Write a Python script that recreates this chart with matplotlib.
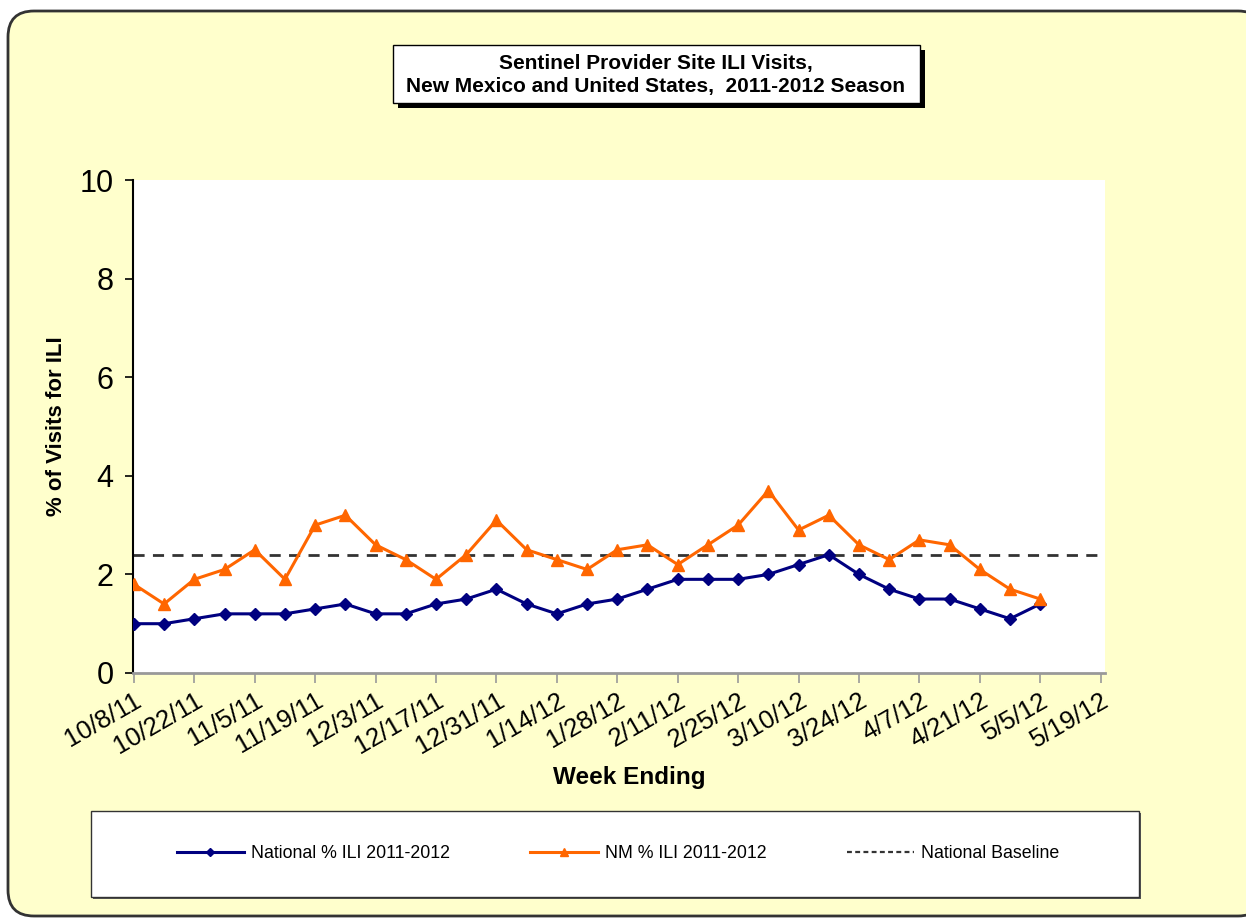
import matplotlib
matplotlib.use("Agg")
import matplotlib.pyplot as plt
import numpy as np
import pandas as pd
from matplotlib.patches import FancyBboxPatch, Rectangle
from matplotlib.transforms import IdentityTransform

plt.rcParams['font.family'] = ['Liberation Sans', 'DejaVu Sans']

# weekly data, week ending 10/8/11 .. 5/5/12
weeks = pd.date_range('2011-10-08', periods=31, freq='7D')
national = [1.0, 1.0, 1.1, 1.2, 1.2, 1.2, 1.3, 1.4, 1.2, 1.2, 1.4, 1.5, 1.7, 1.4, 1.2, 1.4,
            1.5, 1.7, 1.9, 1.9, 1.9, 2.0, 2.2, 2.4, 2.0, 1.7, 1.5, 1.5, 1.3, 1.1, 1.4]
nm = [1.8, 1.4, 1.9, 2.1, 2.5, 1.9, 3.0, 3.2, 2.6, 2.3, 1.9, 2.4, 3.1, 2.5, 2.3, 2.1,
      2.5, 2.6, 2.2, 2.6, 3.0, 3.7, 2.9, 3.2, 2.6, 2.3, 2.7, 2.6, 2.1, 1.7, 1.5]
baseline = 2.4
tick_dates = pd.date_range('2011-10-08', '2012-05-19', freq='14D')
tick_labels = [f'{d.month}/{d.day}/{d.strftime("%y")}' for d in tick_dates]

W, H = 1246, 918
fig = plt.figure(figsize=(W / 100, H / 100), dpi=100)
fig.patch.set_facecolor('white')

# yellow rounded panel (pixel coords)
panel = FancyBboxPatch((8, H - 916), 1256, 905,
                       boxstyle='round,pad=0,rounding_size=26',
                       transform=IdentityTransform(), facecolor='#FFFFCC',
                       edgecolor='#333333', linewidth=2, zorder=-2)
fig.patches.append(panel)

ax = fig.add_axes([133 / W, 1 - 673 / H, 972 / W, 493 / H])
ax.set_zorder(1)
ax.set_facecolor('white')

ax.plot(weeks, national, color='#000080', marker='D', markersize=6.5, linewidth=2.2,
        label='National % ILI 2011-2012', zorder=3)
ax.plot(weeks, nm, color='#FF6600', marker='^', markersize=8.5, linewidth=2.2,
        label='NM % ILI 2011-2012', zorder=3)
ax.axhline(baseline, color='#333333', linestyle=(0, (4, 3)), linewidth=2,
           label='National Baseline', zorder=2)

ax.set_ylim(0, 10)
ax.set_yticks([0, 2, 4, 6, 8, 10])
day = pd.Timedelta(days=1)
ax.set_xlim(tick_dates[0] - 0.2 * day, tick_dates[-1] + 1.0 * day)
ax.set_xticks(tick_dates)
ax.set_xticklabels(tick_labels, rotation=30, ha='right', rotation_mode='anchor', fontsize=18.5)
ax.tick_params(axis='y', labelsize=22, length=6, width=1.2, direction='out', pad=8)
ax.tick_params(axis='x', length=7, width=1.2, color='#999999', direction='out', pad=4)

for s in ['top', 'right']:
    ax.spines[s].set_visible(False)
ax.spines['left'].set_linewidth(1.5)
ax.spines['bottom'].set_color('#999999')
ax.spines['bottom'].set_linewidth(2)

ax.set_xlabel('Week Ending', fontsize=17.5, fontweight='bold')
ax.xaxis.set_label_coords(0.511, -0.189)
ax.set_ylabel('% of Visits for ILI', fontsize=16, fontweight='bold')
ax.yaxis.set_label_coords(-0.068, 0.5)

# title box with shadow
fig.patches.append(Rectangle((398 / W, 1 - 108 / H), 527 / W, 58 / H,
                             transform=fig.transFigure, facecolor='black',
                             edgecolor='none', zorder=1))
fig.patches.append(Rectangle((393 / W, 1 - 103 / H), 527 / W, 58 / H,
                             transform=fig.transFigure, facecolor='white',
                             edgecolor='black', linewidth=1, zorder=2))
fig.text(656 / W, 1 - 75 / H, 'Sentinel Provider Site ILI Visits,\nNew Mexico and United States,  2011-2012 Season',
         ha='center', va='center', fontsize=15, fontweight='bold', linespacing=1.25, zorder=3)

# legend box
fig.patches.append(Rectangle((93 / W, 1 - 899 / H), 1048 / W, 86 / H,
                             transform=fig.transFigure, facecolor='#555555',
                             edgecolor='none', zorder=1))
fig.patches.append(Rectangle((91 / W, 1 - 897 / H), 1048 / W, 86 / H,
                             transform=fig.transFigure, facecolor='white',
                             edgecolor='#333333', linewidth=1, zorder=2))
handles, labels = ax.get_legend_handles_labels()
leg = fig.legend(handles, labels, loc='center', bbox_to_anchor=(618 / W, 1 - 854 / H),
                 ncol=3, frameon=False, fontsize=12.8, columnspacing=4.5,
                 handlelength=3.8, handletextpad=0.4, markerscale=0.7)
leg.get_lines()[2].set_linestyle((0, (2.2, 1.5)))
leg.get_lines()[2].set_linewidth(1.6)
leg.set_zorder(5)

fig.savefig('out.png', dpi=100)
